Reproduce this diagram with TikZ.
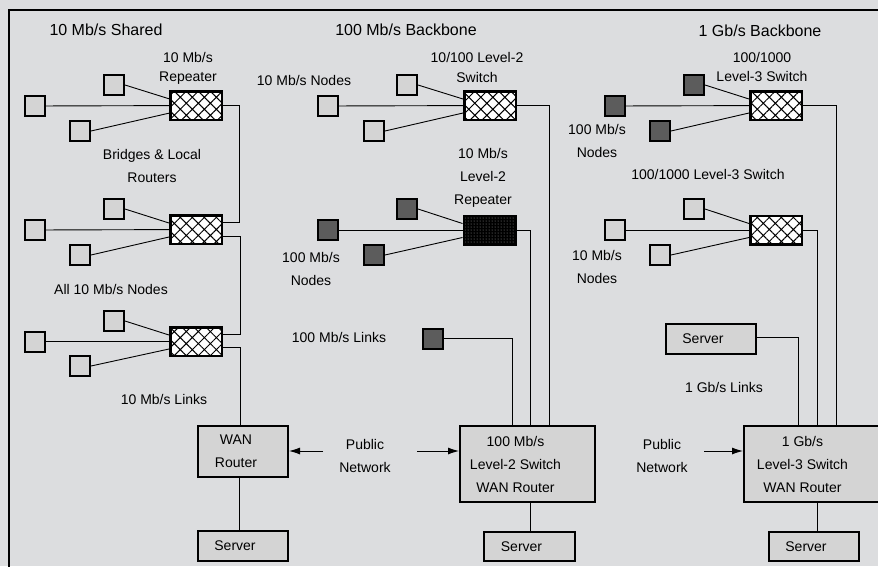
\documentclass[tikz,border=0pt]{standalone}
\usepackage{fontspec}
\setmainfont{Liberation Sans}
\usetikzlibrary{positioning,calc,arrows.meta,patterns.meta}
\definecolor{netbg}{HTML}{DCDDDF}
\definecolor{netlight}{HTML}{D4D4D4}
\definecolor{netdark}{HTML}{5C5C5C}

\begin{document}
\begin{tikzpicture}[
  x=1pt, y=-1pt,
  lbl/.style={font=\fontsize{14}{23}\selectfont, align=center, inner sep=0pt},
  tight/.style={lbl, font=\fontsize{14}{19.5}\selectfont},
  ttl/.style={font=\fontsize{16}{20}\selectfont, inner sep=0pt},
  pc/.style={draw, line width=2pt, fill=netlight, minimum size=20pt, inner sep=0pt},
  fastpc/.style={pc, fill=netdark},
  hub/.style={draw, line width=2.5pt, minimum width=51.5pt, minimum height=28.5pt, inner sep=0pt,
              preaction={fill=white}, pattern={Hatch[angle=45,distance=8.5pt,line width=1pt]}},
  rep/.style={draw, line width=2pt, minimum width=52pt, minimum height=29pt, inner sep=0pt,
              preaction={fill=black}, pattern={Dots[distance=3pt,radius=0.5pt]}, pattern color=gray!80},
  box/.style={draw, line width=2pt, fill=netlight, inner sep=0pt},
  link/.style={line width=0.9pt},
  arr/.style={link, -{Latex[length=11pt,width=7pt]}}
]
  \useasboundingbox (0,0) rectangle (878,566);
  \fill[netbg] (0,0) rectangle (878,566);
  \draw[line width=2.5pt] (9,570) -- (9,10) -- (882,10);

  % 10 Mb/s shared
  \node[ttl] (t1) at (106,30) {10 Mb/s Shared};
  \node[tight] (t2) at (188,68.5) {10 Mb/s\\Repeater};
  \node[lbl] (t3) at (152,166) {Bridges \& Local\\Routers};
  \node[lbl] (t4) at (111,289) {All 10 Mb/s Nodes};
  \node[lbl] (t5) at (164,399) {10 Mb/s Links};

  \node[hub] (h1) at (196,105.5) {};
  \node[hub] (h2) at (196,229.5) {};
  \node[hub] (h3) at (196,341.5) {};
  \node[pc] (a1) at (35,106) {};
  \node[pc] (a2) at (114,85) {};
  \node[pc] (a3) at (80,131) {};
  \node[pc] (b1) at (35,230) {};
  \node[pc] (b2) at (114,209) {};
  \node[pc] (b3) at (80,255) {};
  \node[pc] (c1) at (35,341.5) {};
  \node[pc] (c2) at (114,321) {};
  \node[pc] (c3) at (80,366) {};

  \node[box, minimum width=90pt, minimum height=51pt,
        label={[lbl,xshift=-7pt]center:WAN\\Router}] (wan) at (243,451.5) {};
  \node[box, minimum width=90pt, minimum height=30pt,
        label={[lbl,xshift=-8pt]center:Server}] (sv1) at (243,546) {};

  \draw[link] (a1) -- (h1);
  \draw[link] (a2.east) -- ([yshift=6.5pt]h1.west);
  \draw[link] (a3.east) -- ([yshift=-7.5pt]h1.west);
  \draw[link] (b1) -- (h2);
  \draw[link] (b2.east) -- ([yshift=6.5pt]h2.west);
  \draw[link] (b3.east) -- ([yshift=-7.5pt]h2.west);
  \draw[link] (c1) -- (h3);
  \draw[link] (c2.east) -- ([yshift=6.5pt]h3.west);
  \draw[link] (c3.east) -- ([yshift=-7.5pt]h3.west);

  \draw[link] (h1.east) -- ++(17,0) |- ([yshift=7.5pt]h2.east);
  \draw[link] ([yshift=-6.5pt]h2.east) -- ++(17,0) |- ([yshift=7.5pt]h3.east);
  \draw[link] ([yshift=-5.5pt]h3.east) -| ([xshift=-3pt]wan.north);
  \draw[link] ([xshift=-3.5pt]wan.south) -- ([xshift=-3.5pt]sv1.north);

  % 100 Mb/s backbone
  \node[ttl] (t6) at (406,30) {100 Mb/s Backbone};
  \node[tight] (t7) at (477,67.5) {10/100 Level-2\\Switch};
  \node[lbl] (t8) at (304,80) {10 Mb/s Nodes};
  \node[lbl] (t9) at (483,178) {10 Mb/s\\Level-2\\Repeater};
  \node[lbl] (t10) at (311,269) {100 Mb/s\\Nodes};
  \node[lbl] (t11) at (339,337) {100 Mb/s Links};
  \node[lbl] (t12) at (365,455.5) {Public\\Network};

  \node[hub] (m1) at (490,105.5) {};
  \node[rep] (m2) at (489.5,230) {};
  \node[pc] (d1) at (328,106) {};
  \node[pc] (d2) at (407,85) {};
  \node[pc] (d3) at (374,131) {};
  \node[fastpc] (e1) at (328,230) {};
  \node[fastpc] (e2) at (407,209) {};
  \node[fastpc] (e3) at (374,255) {};
  \node[fastpc] (e4) at (432.5,338.5) {};

  \node[box, minimum width=135pt, minimum height=76pt,
        label={[lbl,xshift=-12pt]center:100 Mb/s\\Level-2 Switch\\WAN Router}] (sw2) at (527.5,464) {};
  \node[box, minimum width=91pt, minimum height=29pt,
        label={[lbl,xshift=-8pt]center:Server}] (sv2) at (529.5,546.5) {};

  \draw[link] (d1) -- (m1);
  \draw[link] (d2.east) -- ([yshift=6.5pt]m1.west);
  \draw[link] (d3.east) -- ([yshift=-7.5pt]m1.west);
  \draw[link] (e1) -- (m2);
  \draw[link] (e2.east) -- ([yshift=6.5pt]m2.west);
  \draw[link] (e3.east) -- ([yshift=-7.5pt]m2.west);

  \draw[link] (m1.east) -| ([xshift=21.5pt]sw2.north);
  \draw[link] (m2.east) -| ([xshift=2.5pt]sw2.north);
  \draw[link] (e4.east) -| ([xshift=-15pt]sw2.north);
  \draw[link] ([xshift=2.5pt]sw2.south) -- ([xshift=0.5pt]sv2.north);

  % 1 Gb/s backbone
  \node[ttl] (t13) at (760,31) {1 Gb/s Backbone};
  \node[tight] (t14) at (762,67) {100/1000\\Level-3 Switch};
  \node[lbl] (t15) at (597,141) {100 Mb/s\\Nodes};
  \node[lbl] (t16) at (708,174) {100/1000 Level-3 Switch};
  \node[lbl] (t17) at (597,266.5) {10 Mb/s\\Nodes};
  \node[lbl] (t18) at (724,387) {1 Gb/s Links};
  \node[lbl] (t19) at (662,455.5) {Public\\Network};

  \node[hub] (r1) at (776,105.5) {};
  \node[hub] (r2) at (776,230) {};
  \node[fastpc] (f1) at (615,106) {};
  \node[fastpc] (f2) at (694,85) {};
  \node[fastpc] (f3) at (660,131) {};
  \node[pc] (g1) at (615,230) {};
  \node[pc] (g2) at (694,209) {};
  \node[pc] (g3) at (660,255) {};

  \node[box, minimum width=90pt, minimum height=30pt,
        label={[lbl,xshift=-8pt]center:Server}] (srv) at (711,339) {};
  \node[box, minimum width=135pt, minimum height=76pt,
        label={[lbl,xshift=-9pt]center:1 Gb/s\\Level-3 Switch\\WAN Router}] (sw3) at (811.5,464) {};
  \node[box, minimum width=90pt, minimum height=29pt,
        label={[lbl,xshift=-8pt]center:Server}] (sv3) at (814,546.5) {};

  \draw[link] (f1) -- (r1);
  \draw[link] (f2.east) -- ([yshift=6.5pt]r1.west);
  \draw[link] (f3.east) -- ([yshift=-7.5pt]r1.west);
  \draw[link] (g1) -- (r2);
  \draw[link] (g2.east) -- ([yshift=6.5pt]r2.west);
  \draw[link] (g3.east) -- ([yshift=-7.5pt]r2.west);

  \draw[link] (r1.east) -| ([xshift=24.5pt]sw3.north);
  \draw[link] (r2.east) -| ([xshift=5.5pt]sw3.north);
  \draw[link] ([yshift=2pt]srv.east) -| ([xshift=-13.5pt]sw3.north);
  \draw[link] ([xshift=5.5pt]sw3.south) -- ([xshift=3pt]sv3.north);

  % public network feeds
  \coordinate (pn1) at (323,451);
  \coordinate (pn2) at (417,451);
  \coordinate (pn3) at (704,451);
  \draw[arr] (pn1) -- (pn1 -| wan.east);
  \draw[arr] (pn2) -- (pn2 -| sw2.west);
  \draw[arr] (pn3) -- (pn3 -| sw3.west);
\end{tikzpicture}
\end{document}
